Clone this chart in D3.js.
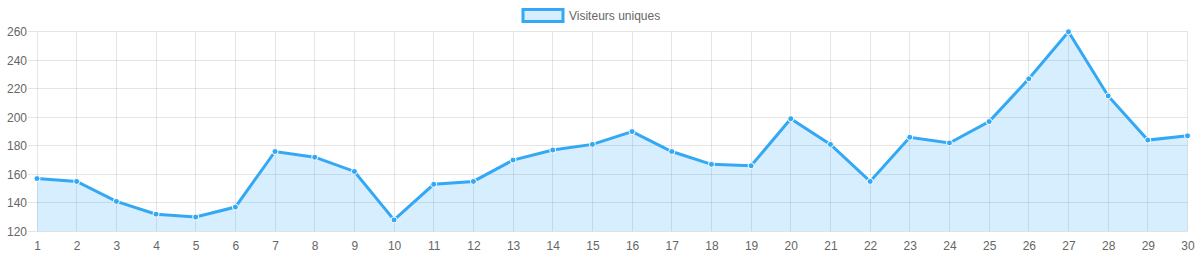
<!DOCTYPE html>
<html>
<head>
<meta charset="utf-8">
<script src="https://cdn.jsdelivr.net/npm/d3@7"></script>
<style>
  html, body { margin: 0; padding: 0; background: #fff; }
  svg { display: block; font-family: "Liberation Sans", Arial, Helvetica, sans-serif; }
</style>
</head>
<body>
<svg id="chart" width="1198" height="259"></svg>
<script>
const categories = ["1","2","3","4","5","6","7","8","9","10","11","12","13","14","15","16","17","18","19","20","21","22","23","24","25","26","27","28","29","30"];
const seriesName = "Visiteurs uniques";
const visitors = [157,155,141,132,130,137,176,172,162,128,153,155,170,177,181,190,176,167,166,199,181,155,186,182,197,227,260,215,184,187];
const yTicks = [120,140,160,180,200,220,240,260];

const lineColor = "#33a8f5";
const fillColor = "rgba(51,168,245,0.2)";
const gridColor = "rgba(0,0,0,0.1)";
const textColor = "#666";

const svg = d3.select("#chart");
const plotLeft = 37, plotRight = 1187.5, plotTop = 31.8, plotBottom = 231.3;

const x = d3.scalePoint().domain(categories).range([plotLeft, plotRight]);
const y = d3.scaleLinear().domain([120, 260]).range([plotBottom, plotTop]);

const crisp = v => Math.round(v) + 0.5;

// horizontal grid + y labels
const yAxis = d3.axisLeft(y).tickValues(yTicks).tickSize(0).tickPadding(10);
const gy = svg.append("g").attr("transform", `translate(${plotLeft},0)`).call(yAxis);
gy.select(".domain").remove();
gy.selectAll("text").attr("fill", textColor).style("font-size", "12px")
  .style("font-family", '"Liberation Sans", Arial, sans-serif');

svg.append("g").selectAll("line").data(yTicks).join("line")
  .attr("x1", plotLeft - 9).attr("x2", plotRight)
  .attr("y1", d => crisp(y(d) - 0.5)).attr("y2", d => crisp(y(d) - 0.5))
  .attr("stroke", gridColor).attr("stroke-width", 1);

// vertical grid
svg.append("g").selectAll("line").data(categories).join("line")
  .attr("x1", d => crisp(x(d) - 0.5)).attr("x2", d => crisp(x(d) - 0.5))
  .attr("y1", plotTop).attr("y2", plotBottom)
  .attr("stroke", gridColor).attr("stroke-width", 1);

// x labels
const xAxis = d3.axisBottom(x).tickSize(0).tickPadding(0);
const gx = svg.append("g").attr("transform", `translate(0,${plotBottom})`).call(xAxis);
gx.select(".domain").remove();
gx.selectAll("text").attr("fill", textColor).style("font-size", "12px")
  .attr("dy", null).attr("y", 18.7)
  .style("font-family", '"Liberation Sans", Arial, sans-serif');

const pts = categories.map((c, i) => ({ c, v: visitors[i] }));

// area
svg.append("path").datum(pts)
  .attr("d", d3.area().x(d => x(d.c)).y0(plotBottom).y1(d => y(d.v)))
  .attr("fill", fillColor);

// line
svg.append("path").datum(pts)
  .attr("d", d3.line().x(d => x(d.c)).y(d => y(d.v)))
  .attr("fill", "none").attr("stroke", lineColor).attr("stroke-width", 3)
  .attr("stroke-linejoin", "miter");

// points
svg.append("g").selectAll("circle").data(pts).join("circle")
  .attr("cx", d => x(d.c)).attr("cy", d => y(d.v)).attr("r", 3)
  .attr("fill", lineColor).attr("stroke", "#fff").attr("stroke-width", 1);

// legend
const lg = svg.append("g");
lg.append("rect").attr("x", 523).attr("y", 9.5).attr("width", 40).attr("height", 12)
  .attr("fill", fillColor).attr("stroke", lineColor).attr("stroke-width", 3);
lg.append("text").attr("x", 569).attr("y", 19.5).attr("fill", textColor)
  .style("font-size", "12px").text(seriesName);
</script>
</body>
</html>
